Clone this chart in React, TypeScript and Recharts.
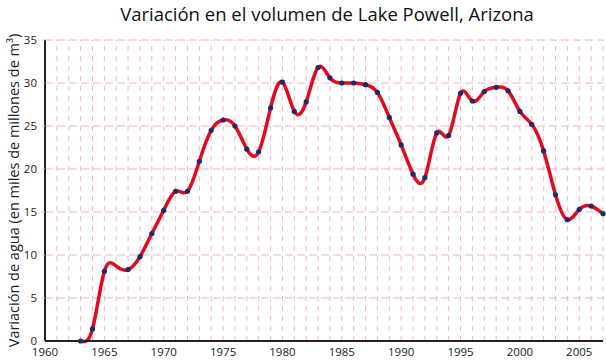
import React from 'react';
import { LineChart, Line, XAxis, YAxis, CartesianGrid, ReferenceLine, Label } from 'recharts';

// Lake Powell volume change, thousands of millions of m3
const years = [
  1963, 1964, 1965, 1966, 1967, 1968, 1969, 1970, 1971, 1972,
  1973, 1974, 1975, 1976, 1977, 1978, 1979, 1980, 1981, 1982,
  1983, 1984, 1985, 1986, 1987, 1988, 1989, 1990, 1991, 1992,
  1993, 1994, 1995, 1996, 1997, 1998, 1999, 2000, 2001, 2002,
  2003, 2004, 2005, 2006, 2007,
];
const volume = [
  0, 1.4, 8.1, 8.7, 8.3, 9.8, 12.5, 15.2, 17.4, 17.4,
  20.9, 24.5, 25.7, 25.0, 22.3, 22.0, 27.1, 30.1, 26.7, 27.8,
  31.8, 30.6, 30.0, 30.0, 29.8, 28.9, 26.0, 22.8, 19.4, 19.0,
  24.2, 23.9, 28.8, 27.9, 29.0, 29.5, 29.1, 26.7, 25.2, 22.1,
  17.0, 14.1, 15.3, 15.7, 14.8,
];
// years drawn without a marker
const noMarker = [1966];

const xTicks = [1960, 1965, 1970, 1975, 1980, 1985, 1990, 1995, 2000, 2005];
const yTicks = [0, 5, 10, 15, 20, 25, 30, 35];
const gridYears = Array.from({ length: 47 }, (_, i) => 1961 + i);

const data = years.map((year, i) => ({ year, v: volume[i] }));

const font = '"Open Sans", sans-serif';

const Dot = (props: any) => {
  const { cx, cy, payload, index } = props;
  if (noMarker.includes(payload.year)) return <g key={index} />;
  return <circle key={index} cx={cx} cy={cy} r={2.6} fill="#1f2a6b" />;
};

export default function App() {
  return (
    <div style={{ position: 'absolute', left: 0, top: 0, width: 606, height: 363, background: '#fff', fontFamily: font }}>
      <div style={{ position: 'absolute', left: 0, top: 1, width: 654, textAlign: 'center', fontSize: 18.5, color: '#111' }}>
        Variación en el volumen de Lake Powell, Arizona
      </div>
      <LineChart width={606} height={363} data={data} margin={{ top: 40, right: 3, bottom: 0, left: 0 }}>
        <CartesianGrid vertical={false} stroke="#f4b3c4" strokeDasharray="8 4" />
        {gridYears.map((y) => (
          <ReferenceLine key={y} x={y} stroke="#f4b6c6" strokeDasharray="5 5" />
        ))}
        <XAxis
          dataKey="year"
          type="number"
          domain={[1960, 2007]}
          ticks={xTicks}
          interval={0}
          tickLine={false}
          tickSize={0}
          tickMargin={7}
          height={22}
          stroke="#222"
          strokeWidth={2}
          tick={{ fill: '#222', fontSize: 11.5, fontFamily: font }}
        />
        <YAxis
          domain={[0, 35]}
          ticks={yTicks}
          interval={0}
          width={45}
          tickSize={3}
          tickMargin={5}
          stroke="#222"
          strokeWidth={2}
          tickLine={{ stroke: '#f4b3c4', strokeWidth: 1 }}
          tick={{ fill: '#222', fontSize: 11.5, fontFamily: font }}
        >
          <Label
            value="Variación de agua (en miles de millones de m³)"
            angle={-90}
            position="insideLeft"
            offset={14}
            style={{ textAnchor: 'middle', fontSize: 14.5, fill: '#222', fontFamily: font }}
          />
        </YAxis>
        <Line
          type="natural"
          dataKey="v"
          stroke="#e10a1e"
          strokeWidth={3.5}
          dot={Dot}
          activeDot={false}
          isAnimationActive={false}
        />
      </LineChart>
    </div>
  );
}
